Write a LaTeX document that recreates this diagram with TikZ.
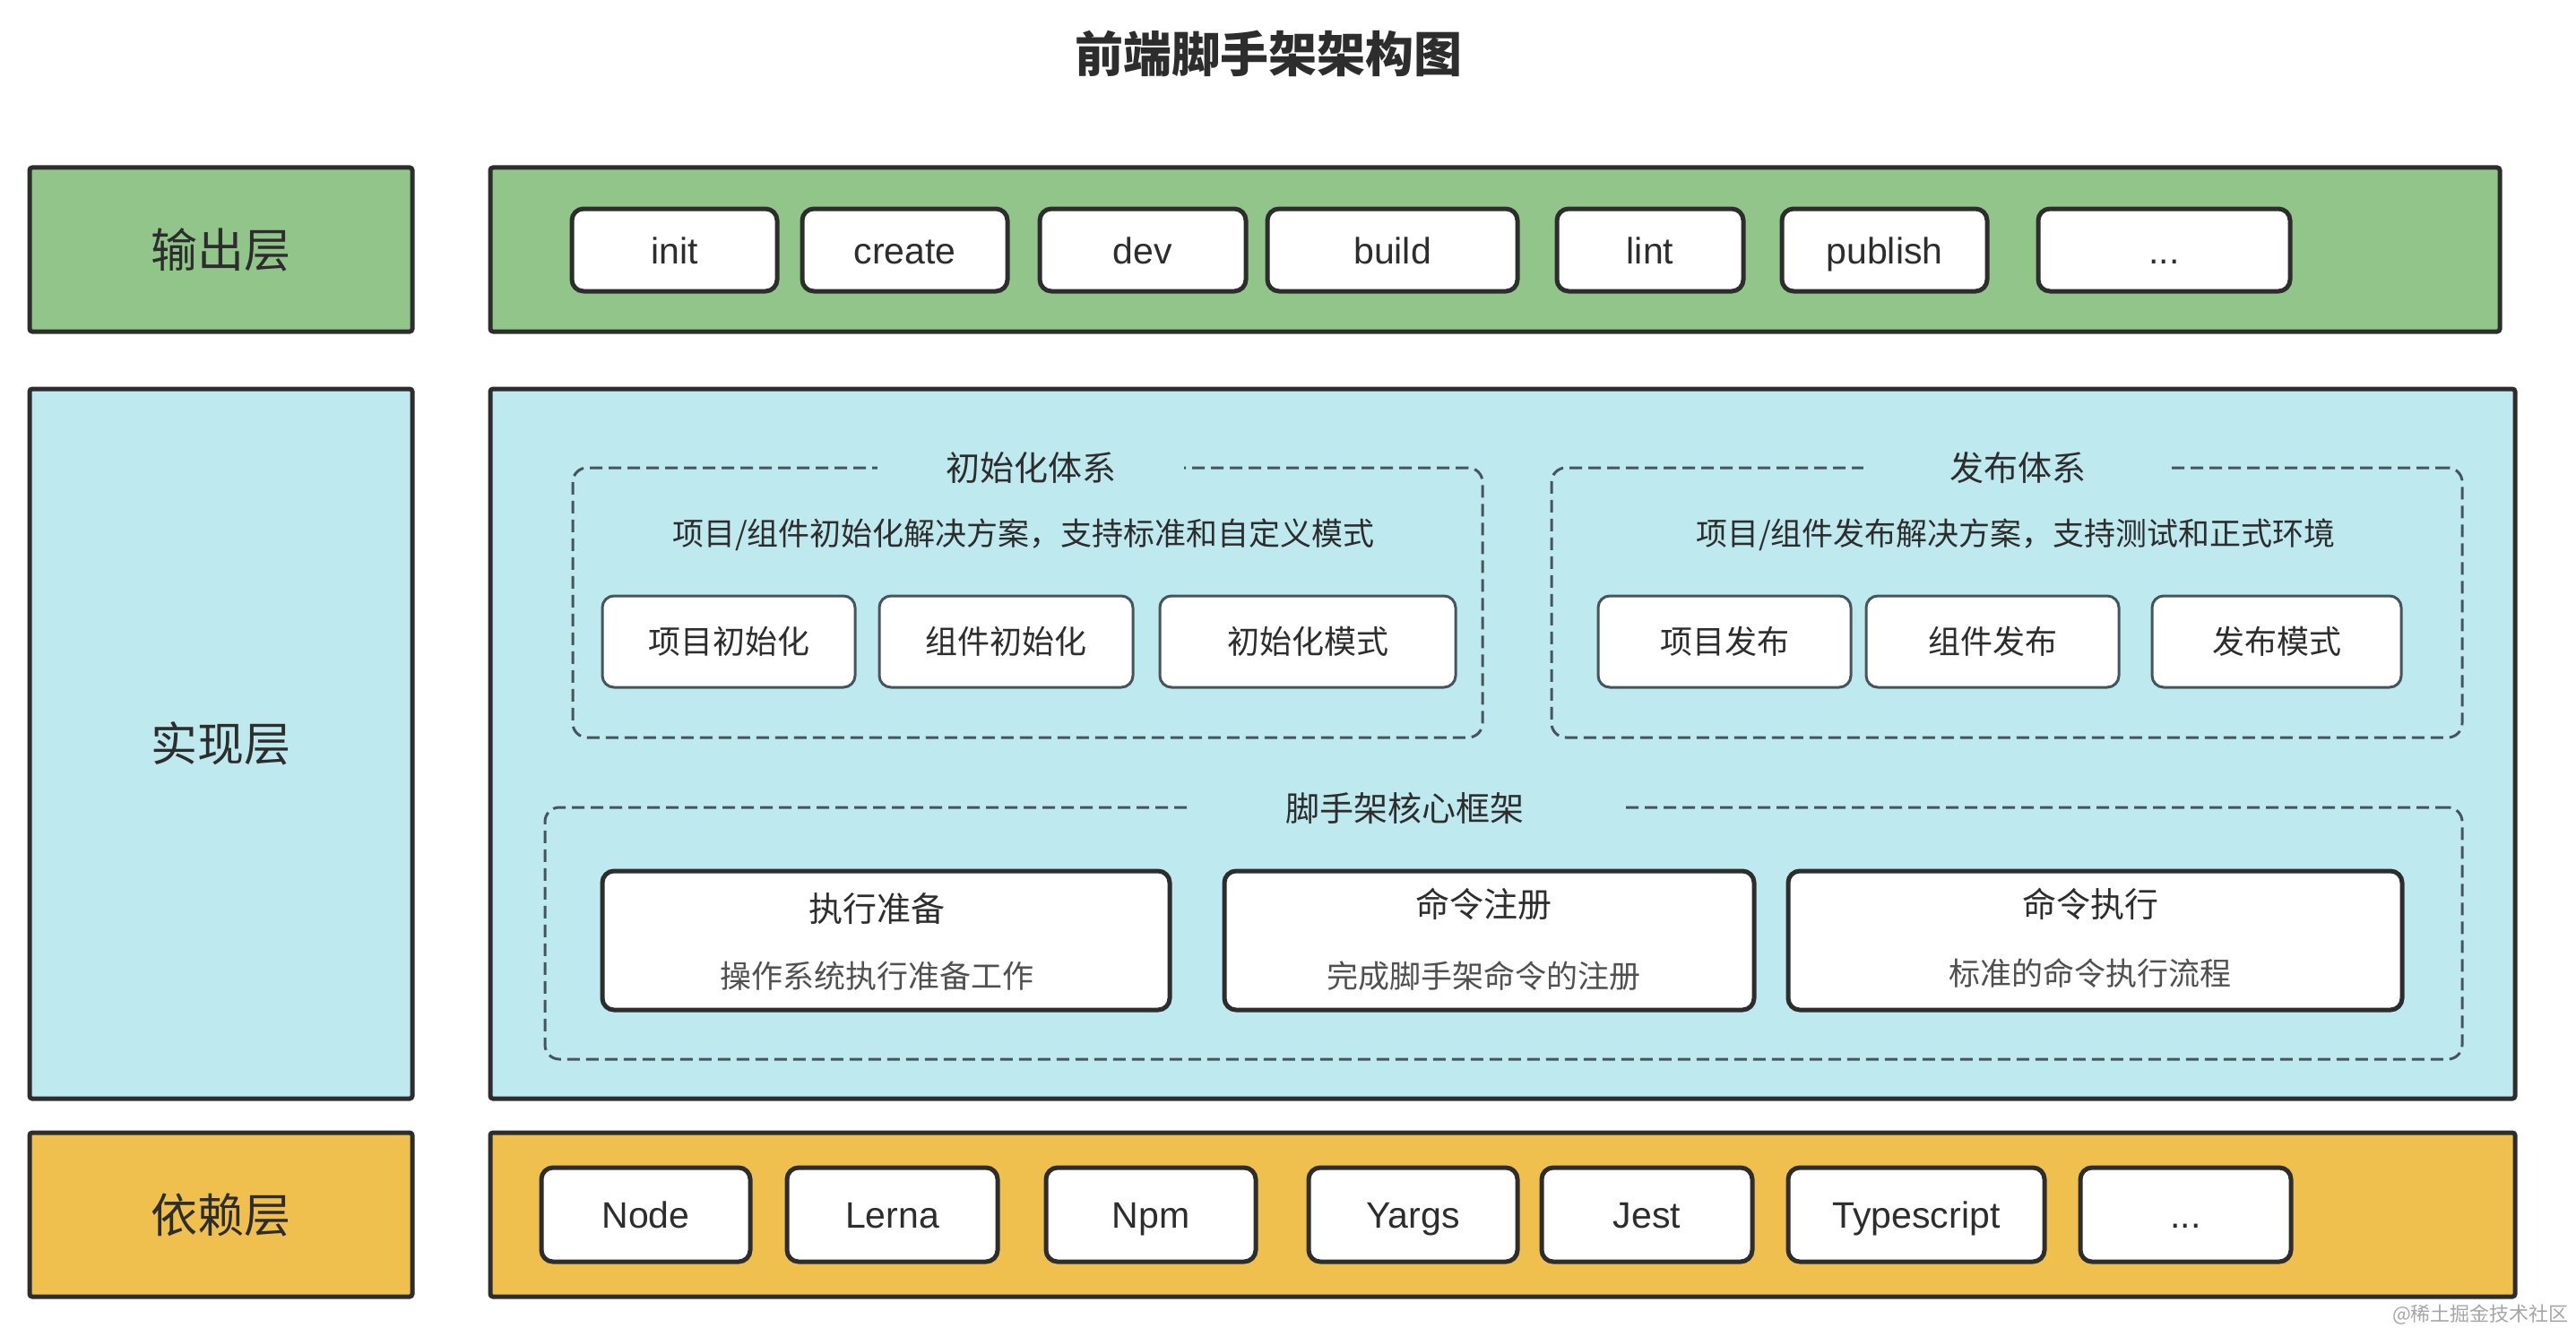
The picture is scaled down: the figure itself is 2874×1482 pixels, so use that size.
\documentclass[tikz,border=0pt]{standalone}
\usepackage{fontspec}
\setmainfont{Liberation Sans}
\newfontfamily\cjk{Noto Sans CJK SC}
\newcommand\threedots{...}
\definecolor{greenbg}{RGB}{146,197,138}
\definecolor{bluebg}{RGB}{190,233,238}
\definecolor{yellowbg}{RGB}{240,192,78}
\definecolor{edge}{RGB}{45,45,45}
\definecolor{slate}{RGB}{70,84,92}
\definecolor{txt}{RGB}{45,45,45}
\definecolor{subtxt}{RGB}{80,80,80}
\tikzset{
  bigbox/.style={draw=edge, line width=5pt, rounded corners=3pt, inner sep=0pt},
  layerlabel/.style={bigbox, text=txt, font=\cjk\fontsize{52}{60}\selectfont},
  btn/.style={draw=edge, fill=white, line width=5pt, rounded corners=13pt, inner sep=0pt,
    text=txt, font=\fontsize{41}{48}\selectfont, text height=30pt, text depth=0pt},
  sbtn/.style={draw=slate, fill=white, line width=3pt, rounded corners=13pt, inner sep=0pt,
    text=txt, font=\cjk\fontsize{36}{44}\selectfont},
  corebox/.style={draw=edge, fill=white, line width=5pt, rounded corners=13pt, inner sep=0pt},
  dbox/.style={draw=slate, line width=3pt, dash pattern=on 14pt off 7pt, rounded corners=16pt, inner sep=0pt},
  gaplabel/.style={fill=bluebg, inner sep=0pt, minimum height=40pt, text=txt,
    font=\cjk\fontsize{38}{46}\selectfont},
  subline/.style={inner sep=0pt, text=txt, font=\cjk\fontsize{35}{42}\selectfont},
  coretitle/.style={inner sep=0pt, text=txt, font=\cjk\fontsize{38}{46}\selectfont},
  coresub/.style={inner sep=0pt, text=subtxt, font=\cjk\fontsize{35}{42}\selectfont},
}
\begin{document}
\begin{tikzpicture}[x=1pt, y=-1pt]
\fill[white] (0,0) rectangle (2874,1482);
\useasboundingbox (0,0) rectangle (2874,1482);

% title
\node[inner sep=0pt, text=txt, font=\cjk\bfseries\fontsize{54}{62}\selectfont] (title) at (1415,60) {前端脚手架架构图};

% layer labels
\node[layerlabel, fill=greenbg, minimum width=427pt, minimum height=183pt] (Lout) at (246.5,278.5) {输出层};
\node[layerlabel, fill=bluebg, minimum width=427pt, minimum height=792pt] (Limpl) at (246.5,830) {实现层};
\node[layerlabel, fill=yellowbg, minimum width=427pt, minimum height=183pt] (Ldep) at (246.5,1355.5) {依赖层};

% layer bodies
\node[bigbox, fill=greenbg, minimum width=2242pt, minimum height=183pt] (Bout) at (1668,278.5) {};
\node[bigbox, fill=bluebg, minimum width=2259pt, minimum height=792pt] (Bimpl) at (1676.5,830) {};
\node[bigbox, fill=yellowbg, minimum width=2259pt, minimum height=183pt] (Bdep) at (1676.5,1355.5) {};

% output layer buttons
\foreach \n/\cx/\w/\t in {o1/752.5/229/init, o2/1009.5/229/create, o3/1275/230/dev, o4/1553.5/279/build, o5/1841/208/lint, o6/2102.5/229/publish, o7/2414.5/281/\threedots}{
  \node[btn, minimum width=\w pt, minimum height=92pt] (\n) at (\cx,279) {\t};
}

% dependency layer buttons
\foreach \n/\cx/\w/\t in {d1/720.5/233/Node, d2/995.5/235/Lerna, d3/1284/234/Npm, d4/1576.5/233/Yargs, d5/1837.5/235/Jest, d6/2138/286/Typescript, d7/2438.5/235/\threedots}{
  \node[btn, minimum width=\w pt, minimum height=105pt] (\n) at (\cx,1355.5) {\t};
}

% init system
\node[dbox, minimum width=1015pt, minimum height=301pt] (initsys) at (1146.5,672.5) {};
\node[gaplabel, minimum width=342pt] (initsysT) at (1150,522) {初始化体系};
\node[subline] (initsysS) at (1142,597) {项目/组件初始化解决方案，支持标准和自定义模式};
\node[sbtn, minimum width=282pt, minimum height=102pt] (i1) at (813,716) {项目初始化};
\node[sbtn, minimum width=283pt, minimum height=102pt] (i2) at (1122.5,716) {组件初始化};
\node[sbtn, minimum width=330pt, minimum height=102pt] (i3) at (1459,716) {初始化模式};

% publish system
\node[dbox, minimum width=1016pt, minimum height=301pt] (pubsys) at (2239,672.5) {};
\node[gaplabel, minimum width=344pt] (pubsysT) at (2251,522) {发布体系};
\node[subline] (pubsysS) at (2249,597) {项目/组件发布解决方案，支持测试和正式环境};
\node[sbtn, minimum width=282pt, minimum height=102pt] (p1) at (1924,716) {项目发布};
\node[sbtn, minimum width=282pt, minimum height=102pt] (p2) at (2223,716) {组件发布};
\node[sbtn, minimum width=278pt, minimum height=102pt] (p3) at (2540,716) {发布模式};

% core framework
\node[dbox, minimum width=2139pt, minimum height=281pt] (core) at (1677.5,1041.5) {};
\node[gaplabel, minimum width=485pt] (coreT) at (1567,902) {脚手架核心框架};

\node[corebox, minimum width=633pt, minimum height=155pt] (c1) at (988.5,1049.5) {};
\node[corebox, minimum width=591pt, minimum height=155pt] (c2) at (1661.5,1049.5) {};
\node[corebox, minimum width=685pt, minimum height=155pt] (c3) at (2337.5,1049.5) {};
\node[coretitle] (c1t) at (978,1014) {执行准备};
\node[coresub] (c1s) at (978,1089) {操作系统执行准备工作};
\node[coretitle] (c2t) at (1655,1009) {命令注册};
\node[coresub] (c2s) at (1655,1089) {完成脚手架命令的注册};
\node[coretitle] (c3t) at (2332,1009) {命令执行};
\node[coresub] (c3s) at (2332,1086) {标准的命令执行流程};

% watermark
\node[inner sep=0pt, text=gray!70, font=\cjk\fontsize{22}{26}\selectfont, anchor=east] (wm) at (2866,1467) {@稀土掘金技术社区};
\end{tikzpicture}
\end{document}
